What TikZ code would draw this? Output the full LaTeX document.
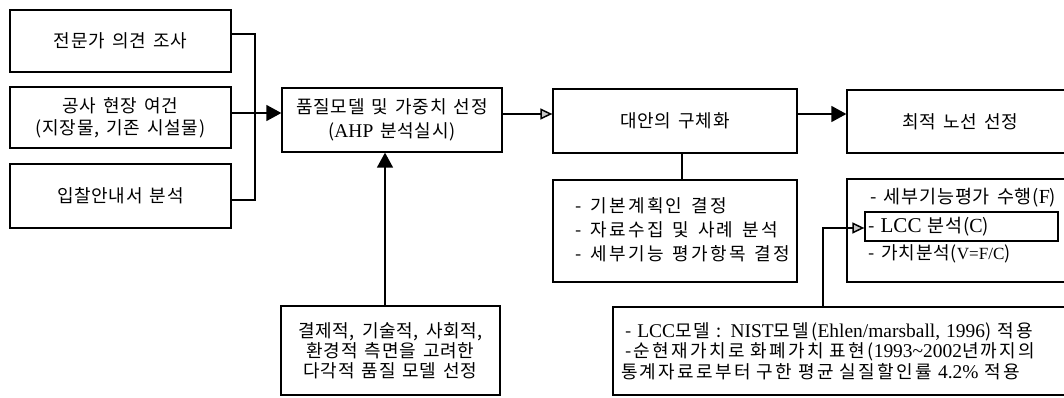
\documentclass[tikz,border=0pt]{standalone}
\usepackage{fontspec}
\setmainfont{Noto Sans CJK KR}[LetterSpace=4, WordSpace=1.5]
\newfontfamily\wide{Noto Sans CJK KR}[LetterSpace=13, WordSpace=1.4]
\newfontfamily\tm{Liberation Serif}[Scale=1.08]
\newfontfamily\tmc{Liberation Serif}[Scale=0.95]
\usetikzlibrary{arrows.meta,calc}
\begin{document}
\begin{tikzpicture}[x=1pt,y=-1pt,
  box/.style={draw, line width=1.3pt, inner sep=0pt, align=center, font=\fontsize{18}{22}\selectfont},
  txt/.style={inner sep=0pt, align=left, font=\fontsize{18}{22}\selectfont},
  conn/.style={line width=1.5pt},
  fulltip/.style={-{Triangle[length=15pt,width=16pt]}},
  opentip/.style={-{Triangle[length=12pt,width=11pt,fill=gray!45]}}]
\useasboundingbox (0,0) rectangle (1064,398);
% left input boxes
\node[box, minimum width=221pt, minimum height=62pt] (b1) at (120.5,41) {전문가 의견 조사};
\node[box, minimum width=221pt, minimum height=61pt] (b2) at (120.5,117.5) {공사 현장 여건\\(지장물, 기존 시설물)};
\node[box, minimum width=221pt, minimum height=64pt] (b3) at (120.5,196) {입찰안내서 분석};
% main row
\node[box, minimum width=220pt, minimum height=64pt, font=\fontsize{18}{24}\selectfont] (ahp) at (392,120) {품질모델 및 가중치 선정\\({\tm AHP} 분석실시)};
\node[box, minimum width=244pt, minimum height=64pt] (alt) at (675,121) {대안의 구체화};
\node[box, minimum width=226pt, minimum height=63pt] (opt) at (960,121.5) {최적 노선 선정};
% lower boxes
\node[box, minimum width=244pt, minimum height=102pt] (steps) at (675,231) {};
\node[txt, anchor=west, font=\fontsize{18}{24}\wide] (stepstext) at (575,230) {- 기본계획인 결정\\- 자료수집 및 사례 분석\\- 세부기능 평가항목 결정};
\node[box, minimum width=228pt, minimum height=103pt] (vfc) at (961,230.5) {};
\node[box, text width=187pt, inner xsep=3pt, minimum height=29pt, align=left, font=\fontsize{18.5}{22}\selectfont] (lcc) at (961.5,226.5) {- {\tm\fontsize{19.5}{22}\selectfont LCC} 분석({\tm C})};
\node[txt, anchor=west, font=\fontsize{18.5}{22}\selectfont] (f1) at (870,198) {- 세부기능평가 수행({\tm F})};
\node[txt, anchor=west] (f3) at (868,254) {- 가치분석({\tmc V=F/C})};
\node[box, minimum width=219pt, minimum height=89pt, font=\fontsize{18}{20}\selectfont] (qual) at (390.5,350.5) {결제적, 기술적, 사회적,\\환경적 측면을 고려한\\다각적 품질 모델 선정};
\node[box, minimum width=460pt, text width=436pt, inner xsep=12pt, minimum height=88pt, align=left, font=\fontsize{18}{20.5}\wide] (lccm) at (843,351) {- {\tm LCC}모델 : {\tm NIST}모델({\tm Ehlen/marsball, 1996}) 적용\\-순현재가치로 화폐가치 표현({\tm 1993\textasciitilde 2002}년까지의\\\hspace*{-4pt}통계자료로부터 구한 평균 실질할인률 {\tm 4.2\%} 적용};
% connectors
\coordinate (bus) at (255,113);
\coordinate (j) at (823,307);
\draw[conn] ([yshift=7pt]b1.east) -| (bus) |- ([yshift=-4pt]b3.east);
\draw[conn] ([yshift=4.5pt]b2.east) -- (bus);
\draw[conn, fulltip] (bus) -- ([yshift=7pt]ahp.west);
\draw[conn, opentip] ([yshift=6pt]ahp.east) -- ([yshift=6pt]ahp.east -| alt.west);
\draw[conn, fulltip] ([yshift=7pt]alt.east) -- ([yshift=7pt]alt.east -| opt.west);
\draw[conn] ([xshift=7pt]alt.south) -- ([xshift=7pt]alt.south |- steps.north);
\draw[conn, fulltip] ([xshift=-5.5pt]qual.north) -- ([xshift=-5.5pt]qual.north |- ahp.south);
\draw[conn, opentip] (lccm.north -| j) |- ([yshift=-1.5pt]lcc.west);
\end{tikzpicture}
\end{document}
